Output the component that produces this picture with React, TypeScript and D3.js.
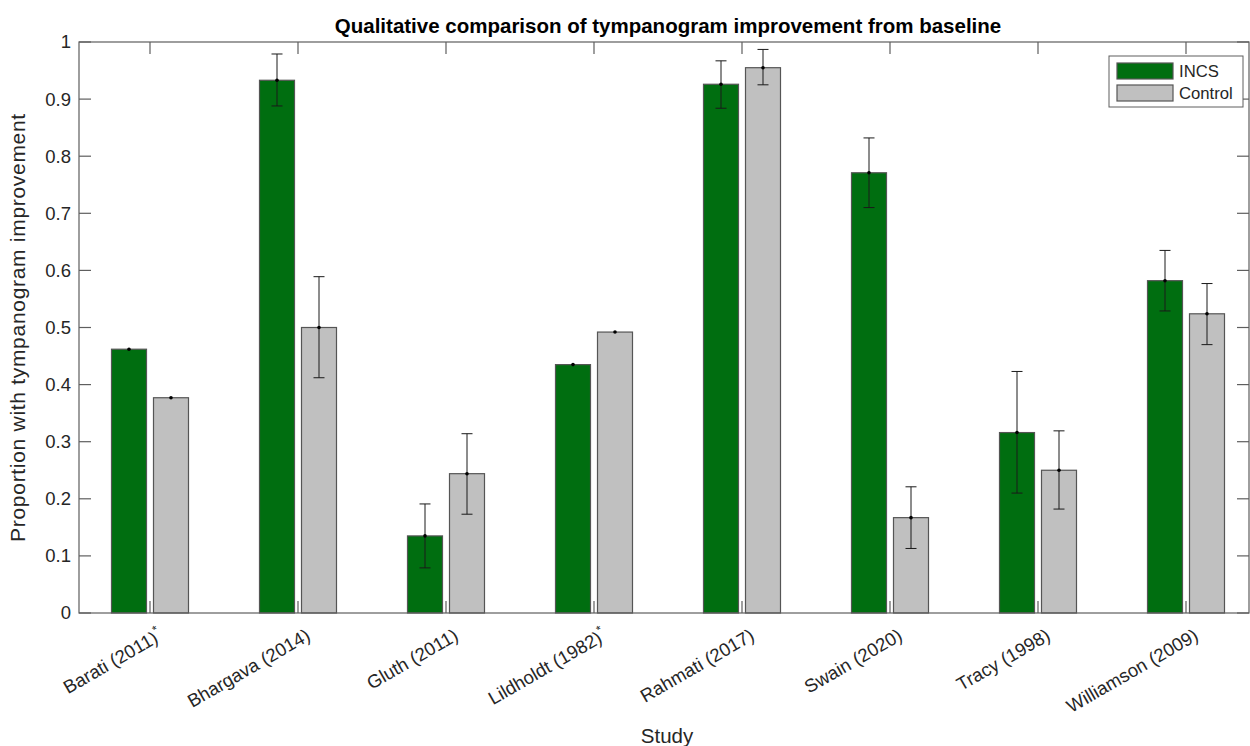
import * as d3 from "d3";

const studies = [
  "Barati (2011)",
  "Bhargava (2014)",
  "Gluth (2011)",
  "Lildholdt (1982)",
  "Rahmati (2017)",
  "Swain (2020)",
  "Tracy (1998)",
  "Williamson (2009)",
];
const starred = [true, false, false, true, false, false, false, false];

const incs = [0.462, 0.933, 0.135, 0.435, 0.926, 0.771, 0.316, 0.582];
const incsLo = [0.462, 0.888, 0.079, 0.435, 0.884, 0.71, 0.21, 0.529];
const incsHi = [0.462, 0.979, 0.191, 0.435, 0.967, 0.832, 0.423, 0.635];

const control = [0.377, 0.5, 0.244, 0.492, 0.955, 0.167, 0.25, 0.524];
const controlLo = [0.377, 0.412, 0.173, 0.492, 0.925, 0.113, 0.182, 0.47];
const controlHi = [0.377, 0.589, 0.314, 0.492, 0.987, 0.221, 0.319, 0.577];

const yTicks = [0, 0.1, 0.2, 0.3, 0.4, 0.5, 0.6, 0.7, 0.8, 0.9, 1];

const W = 1250;
const H = 746;
const left = 79;
const right = 1249;
const top = 42;
const bottom = 613;

const GREEN = "#006e10";
const GRAY = "#c0c0c0";
const EDGE = "#555555";
const AXIS = "#5e5e5e";
const TXT = "#262626";
const FONT = "'Liberation Sans', Arial, Helvetica, sans-serif";

export default function App() {
  const x = d3.scaleLinear().domain([0, studies.length - 1]).range([150, 1186]);
  const y = d3.scaleLinear().domain([0, 1]).range([bottom, top]);
  const off = 21;
  const bw = 35;
  const cap = 5.5;

  const series = [
    { name: "INCS", vals: incs, lo: incsLo, hi: incsHi, fill: GREEN, dx: -off },
    { name: "Control", vals: control, lo: controlLo, hi: controlHi, fill: GRAY, dx: off },
  ];

  return (
    <svg
      width={W}
      height={H}
      style={{ position: "absolute", left: 0, top: 0, background: "#fff" }}
      fontFamily={FONT}
    >
      {series.map((s) =>
        s.vals.map((v, i) => {
          const cx = x(i) + s.dx;
          return (
            <g key={s.name + i}>
              <rect
                x={cx - bw / 2}
                y={y(v)}
                width={bw}
                height={y(0) - y(v)}
                fill={s.fill}
                stroke={EDGE}
                strokeWidth={1.2}
              />
              {s.hi[i] !== s.lo[i] && (
                <g stroke="#1a1a1a" strokeWidth={1}>
                  <line x1={cx} x2={cx} y1={y(s.hi[i])} y2={y(s.lo[i])} />
                  <line x1={cx - cap} x2={cx + cap} y1={y(s.hi[i])} y2={y(s.hi[i])} />
                  <line x1={cx - cap} x2={cx + cap} y1={y(s.lo[i])} y2={y(s.lo[i])} />
                </g>
              )}
              <circle cx={cx} cy={y(v)} r={1.8} fill="#000" />
            </g>
          );
        })
      )}

      {/* frame */}
      <rect
        x={left}
        y={top}
        width={right - left}
        height={bottom - top}
        fill="none"
        stroke={AXIS}
        strokeWidth={1.2}
      />

      {/* y ticks */}
      {yTicks.map((t) => (
        <g key={t}>
          <line x1={left} x2={left + 12} y1={y(t)} y2={y(t)} stroke={AXIS} strokeWidth={1.2} />
          <line x1={right - 12} x2={right} y1={y(t)} y2={y(t)} stroke={AXIS} strokeWidth={1.2} />
          <text x={left - 8} y={y(t)} dy="0.35em" textAnchor="end" fontSize={18.5} fill={TXT}>
            {t}
          </text>
        </g>
      ))}

      {/* x ticks and labels */}
      {studies.map((s, i) => (
        <g key={s}>
          <line x1={x(i)} x2={x(i)} y1={top} y2={top + 12} stroke={AXIS} strokeWidth={1.2} />
          <line x1={x(i)} x2={x(i)} y1={bottom} y2={bottom - 12} stroke={AXIS} strokeWidth={1.2} />
          <text
            transform={`translate(${x(i) + 7},${bottom + 15}) rotate(-30)`}
            textAnchor="end"
            fontSize={18.5}
            fill={TXT}
            dy="0.7em"
          >
            {s}
            {starred[i] && (
              <tspan fontSize={12} dy="-0.7em">
                *
              </tspan>
            )}
          </text>
        </g>
      ))}

      <text
        x={(left + right) / 2 + 4}
        y={33}
        textAnchor="middle"
        fontSize={20.5}
        fontWeight="bold"
        fill="#000"
      >
        Qualitative comparison of tympanogram improvement from baseline
      </text>

      <text
        transform={`translate(25,${(top + bottom) / 2}) rotate(-90)`}
        textAnchor="middle"
        fontSize={21}
        letterSpacing={0.7}
        fill={TXT}
      >
        Proportion with tympanogram improvement
      </text>

      <text x={(left + right) / 2 + 3} y={743} textAnchor="middle" fontSize={20.5} fill={TXT}>
        Study
      </text>

      {/* legend */}
      <g>
        <rect x={1109} y={56} width={134} height={51} fill="#fff" stroke={AXIS} strokeWidth={1} />
        {series.map((s, k) => (
          <g key={s.name}>
            <rect x={1117} y={63 + k * 22} width={56} height={16} fill={s.fill} stroke={EDGE} strokeWidth={1.2} />
            <text x={1179} y={71 + k * 22} dy="0.36em" fontSize={16.7} fill={TXT}>
              {s.name}
            </text>
          </g>
        ))}
      </g>
    </svg>
  );
}
